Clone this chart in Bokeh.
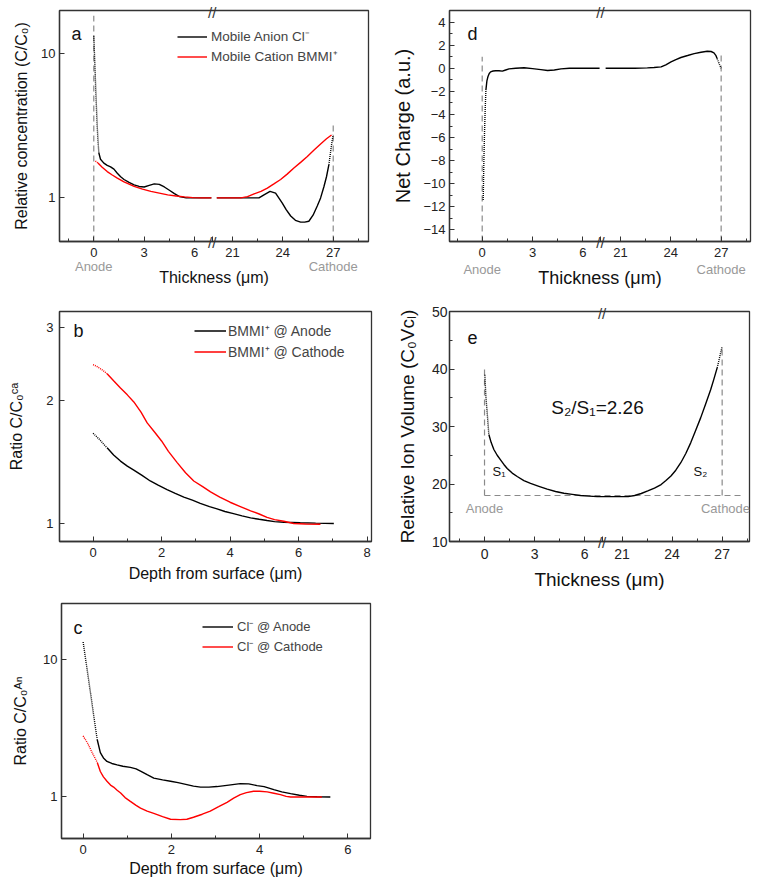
from bokeh.plotting import figure
from bokeh.models import (Range1d, FixedTicker, Label, Legend, LegendItem,
                          NumeralTickFormatter, LinearAxis)
from bokeh.layouts import column, row
from bokeh.embed import file_html
from bokeh.resources import INLINE

FONT = "Liberation Sans"
AX = "#333333"
GRAY_TXT = "#999999"
GRAY_DASH = "#8a8a8a"
SHIFT = 12.75      # broken-axis gap (7.x .. 19.x um removed)
BREAK_U = 7.05

def to_u(xs):
    return [x if x < 12 else x - SHIFT for x in xs]

# ---------------- data: panel a ----------------
a_major = [0, 3, 6, 21, 24, 27]
a_minor = [-1.5, 1.5, 4.5, 22.5, 25.5, 28.5]
a_an_dot_x = [0.0, 0.04, 0.08, 0.12, 0.16, 0.2, 0.25, 0.3]
a_an_dot_y = [13.2, 10.0, 7.5, 5.5, 4.2, 3.2, 2.5, 2.05]
a_an_l_x = [0.3, 0.4, 0.6, 0.8, 1.0, 1.2, 1.4, 1.6, 1.8, 2.1, 2.4, 2.7, 3.0, 3.3, 3.6, 3.9, 4.2, 4.5, 4.8, 5.1, 5.5, 6.0, 6.5, 7.0]
a_an_l_y = [2.05, 1.85, 1.74, 1.68, 1.64, 1.58, 1.48, 1.4, 1.34, 1.28, 1.23, 1.2, 1.19, 1.22, 1.25, 1.24, 1.19, 1.13, 1.07, 1.02, 1.0, 1.0, 1.0, 1.0]
a_an_r_x = [20.07, 21.0, 22.0, 22.58, 22.88, 23.24, 23.57, 23.97, 24.2, 24.47, 24.75, 25.06, 25.3, 25.55, 25.8, 26.05, 26.25, 26.45, 26.6, 26.74]
a_an_r_y = [1.0, 1.0, 1.0, 1.0, 1.05, 1.11, 1.08, 0.92, 0.83, 0.75, 0.70, 0.68, 0.68, 0.69, 0.76, 0.88, 1.0, 1.2, 1.4, 1.69]
a_an_rdot_x = [26.74, 26.8, 26.86, 26.93, 27.0]
a_an_rdot_y = [1.69, 1.9, 2.15, 2.45, 2.72]
a_ca_dot_x = [0.1, 0.2, 0.25]
a_ca_dot_y = [1.80, 1.76, 1.74]
a_ca_l_x = [0.25, 0.5, 0.8, 1.1, 1.4, 1.8, 2.4, 2.9, 3.4, 3.9, 4.4, 4.9, 5.4, 5.9, 6.4, 7.0]
a_ca_l_y = [1.74, 1.63, 1.52, 1.44, 1.37, 1.29, 1.20, 1.15, 1.11, 1.08, 1.05, 1.03, 1.016, 1.005, 1.0, 1.0]
a_ca_r_x = [20.07, 21.5, 21.9, 22.29, 22.7, 23.08, 23.47, 23.87, 24.26, 24.66, 25.06, 25.46, 25.86, 26.25, 26.6, 26.9]
a_ca_r_y = [1.0, 1.0, 1.02, 1.065, 1.11, 1.17, 1.25, 1.34, 1.46, 1.61, 1.76, 1.93, 2.14, 2.36, 2.56, 2.72]
a_elec_x = [0, 27]
a_elec_top = [18.1, 3.36]
elec_names = ["Anode", "Cathode"]

# ---------------- data: panel d ----------------
d_dot_l_x = [0.06, 0.1, 0.14, 0.18, 0.22]
d_dot_l_y = [-11.4, -8.0, -5.5, -3.5, -1.9]
d_l_x = [0.22, 0.28, 0.34, 0.42, 0.5, 0.65, 0.8, 1.0, 1.2, 1.4, 1.6, 2.0, 2.5, 3.0, 3.5, 3.9, 4.3, 4.7, 5.2, 5.7, 6.3, 7.0]
d_l_y = [-1.9, -1.1, -0.74, -0.45, -0.31, -0.24, -0.22, -0.22, -0.25, -0.15, -0.05, 0.0, 0.04, -0.03, -0.12, -0.19, -0.15, -0.05, 0.0, 0.0, 0.0, 0.0]
d_r_x = [20.11, 21.0, 21.85, 22.6, 23.0, 23.42, 23.7, 24.01, 24.3, 24.6, 25.0, 25.39, 25.8, 26.17, 26.4, 26.57, 26.68, 26.76]
d_r_y = [0.0, 0.0, 0.0, 0.03, 0.07, 0.12, 0.3, 0.55, 0.75, 0.93, 1.1, 1.27, 1.38, 1.47, 1.45, 1.33, 1.12, 0.84]
d_dot_r_x = [26.76, 26.84, 26.92, 27.0]
d_dot_r_y = [0.84, 0.55, 0.25, 0.0]
d_elec_x = [0, 27]
d_elec_top = [1.0, 1.4]
d_y_major = [-14, -12, -10, -8, -6, -4, -2, 0, 2, 4]
d_y_minor = [-13, -11, -9, -7, -5, -3, -1, 1, 3]

# ---------------- data: panel e ----------------
e_dot_l_x = [0.02, 0.08, 0.16, 0.22, 0.26]
e_dot_l_y = [39.0, 35.3, 32.4, 30.1, 28.6]
e_x = [0.26, 0.4, 0.56, 0.76, 0.96, 1.16, 1.36, 1.66, 1.96, 2.36, 2.76, 3.26, 3.76, 4.26, 4.76, 5.26, 5.76, 6.26, 6.76, 7.0,
       20.0, 20.7, 21.36, 21.75, 22.15, 22.54, 22.94, 23.34, 23.63, 23.93, 24.22, 24.52, 24.82, 25.12, 25.41, 25.71, 26.01, 26.31, 26.5, 26.7]
e_y = [28.6, 27.2, 26.0, 25.0, 24.2, 23.4, 22.7, 21.9, 21.3, 20.6, 20.1, 19.6, 19.1, 18.7, 18.4, 18.2, 18.0, 17.9, 17.8, 17.8,
       17.8, 17.8, 17.8, 18.0, 18.35, 18.8, 19.3, 19.9, 20.6, 21.4, 22.4, 23.7, 25.3, 27.2, 29.3, 31.5, 33.9, 36.4, 38.2, 40.2]
e_dot_r_x = [26.7, 26.8, 26.9, 27.0]
e_dot_r_y = [40.2, 41.4, 42.7, 43.9]
e_elec_x = [0, 27]
e_elec_top = [40.6, 43.9]
e_elec_label_x = [0, 27.2]
e_elec_label_y = 15.7
e_base_y = 18.0
e_base_x_end = 28.15
e_y_major = [10, 20, 30, 40, 50]
e_y_minor = [15, 25, 35, 45]

# ---------------- data: panel b ----------------
b_an_dot_x = [0.0, 0.1, 0.2, 0.3, 0.41]
b_an_dot_y = [1.66, 1.63, 1.60, 1.565, 1.53]
b_an_x = [0.41, 0.6, 0.8, 1.0, 1.19, 1.43, 1.67, 1.9, 2.16, 2.4, 2.65, 2.9, 3.13, 3.4, 3.62, 3.85, 4.1, 4.35, 4.6, 4.85, 5.08, 5.3, 5.57, 6.05, 6.5, 7.03]
b_an_y = [1.53, 1.47, 1.42, 1.38, 1.35, 1.31, 1.27, 1.24, 1.21, 1.185, 1.16, 1.14, 1.12, 1.10, 1.086, 1.07, 1.057, 1.044, 1.032, 1.024, 1.017, 1.011, 1.007, 1.004, 1.002, 1.0]
b_ca_dot_x = [0.0, 0.1, 0.2, 0.3, 0.41]
b_ca_dot_y = [2.44, 2.42, 2.39, 2.36, 2.32]
b_ca_x = [0.41, 0.6, 0.8, 1.0, 1.19, 1.4, 1.58, 1.8, 2.0, 2.2, 2.45, 2.7, 2.94, 3.2, 3.43, 3.7, 4.0, 4.3, 4.6, 4.85, 5.08, 5.3, 5.57, 5.86, 6.2, 6.64]
b_ca_y = [2.32, 2.23, 2.14, 2.06, 1.98, 1.87, 1.76, 1.67, 1.59, 1.50, 1.41, 1.33, 1.27, 1.23, 1.195, 1.16, 1.127, 1.10, 1.074, 1.055, 1.035, 1.022, 1.013, 1.0, 0.997, 0.996]

# ---------------- data: panel c ----------------
c_an_dot_x = [0.0, 0.05, 0.1, 0.15, 0.2, 0.26, 0.32]
c_an_dot_y = [13.3, 10.3, 8.0, 6.2, 4.8, 3.5, 2.6]
c_an_x = [0.32, 0.39, 0.46, 0.54, 0.65, 0.77, 0.9, 1.07, 1.2, 1.3, 1.45, 1.6, 1.8, 1.98, 2.15, 2.35, 2.5, 2.66, 2.85, 3.03, 3.3, 3.56, 3.75, 3.94, 4.1, 4.32, 4.5, 4.7, 4.9, 5.07, 5.3, 5.6]
c_an_y = [2.6, 2.1, 1.92, 1.81, 1.75, 1.71, 1.67, 1.64, 1.6, 1.54, 1.45, 1.37, 1.33, 1.30, 1.27, 1.23, 1.2, 1.18, 1.18, 1.19, 1.22, 1.25, 1.245, 1.21, 1.19, 1.13, 1.09, 1.057, 1.03, 1.011, 1.003, 1.0]
c_ca_dot_x = [0.0, 0.1, 0.23, 0.32]
c_ca_dot_y = [2.77, 2.46, 2.02, 1.78]
c_ca_x = [0.32, 0.39, 0.46, 0.54, 0.62, 0.69, 0.77, 0.85, 0.95, 1.07, 1.2, 1.3, 1.45, 1.6, 1.8, 1.98, 2.2, 2.35, 2.5, 2.7, 2.88, 3.07, 3.26, 3.41, 3.56, 3.7, 3.86, 4.0, 4.17, 4.32, 4.47, 4.6, 4.7, 5.07, 5.41]
c_ca_y = [1.78, 1.53, 1.40, 1.30, 1.22, 1.18, 1.12, 1.07, 0.99, 0.93, 0.87, 0.83, 0.79, 0.76, 0.72, 0.69, 0.685, 0.69, 0.713, 0.75, 0.79, 0.85, 0.915, 0.98, 1.04, 1.075, 1.10, 1.10, 1.09, 1.065, 1.04, 1.01, 1.0, 1.0, 1.0]


def style_axis(ax, tick_size="13px"):
    ax.axis_line_color = AX
    ax.axis_line_width = 1.3
    ax.major_tick_line_color = AX
    ax.minor_tick_line_color = AX
    ax.major_tick_in = 5
    ax.major_tick_out = 0
    ax.minor_tick_in = 3
    ax.minor_tick_out = 0
    ax.major_label_text_font = FONT
    ax.major_label_text_font_size = tick_size
    ax.major_label_text_color = "#222222"
    ax.axis_label_text_font = FONT
    ax.axis_label_text_font_style = "normal"
    ax.axis_label_text_color = "#111111"


def bare_axis(ax):
    ax.axis_line_color = None
    ax.major_tick_line_color = None
    ax.minor_tick_line_color = None
    ax.major_tick_in = 0
    ax.major_tick_out = 0
    ax.minor_tick_in = 0
    ax.minor_tick_out = 0


def make_fig(xr, yr, ylog, fw, h, bl, br, bt, bb, broken=False):
    kw = dict(x_axis_location=None) if broken else {}
    p = figure(x_range=Range1d(*xr), y_range=Range1d(*yr),
               y_axis_type="log" if ylog else "linear",
               frame_width=fw, height=h, min_border=0,
               min_border_left=bl, min_border_right=br,
               min_border_top=bt, min_border_bottom=bb,
               toolbar_location=None, output_backend="svg", **kw)
    p.grid.visible = False
    p.outline_line_color = AX
    p.outline_line_width = 1.3
    p.background_fill_color = "white"
    p.border_fill_color = "white"
    for ax in p.axis:
        style_axis(ax)
    return p


def set_y(p, ylab, yls, yst, ylst, tick_size="13px"):
    ax = p.yaxis[0]
    ax.axis_label = ylab
    ax.axis_label_text_font_size = yls
    ax.major_label_standoff = yst
    ax.axis_label_standoff = ylst
    ax.major_label_text_font_size = tick_size


def set_x(p, xlab, xls, xst, xlst, tick_size="13px"):
    ax = p.xaxis[0]
    ax.axis_label = xlab
    ax.axis_label_text_font_size = xls
    ax.major_label_standoff = xst
    ax.axis_label_standoff = xlst
    ax.major_label_text_font_size = tick_size


BREAK_FONT = "15px"

def broken_x(p, xlab, xls, num_st, lab_st, tick_size="13px", elec=None):
    major_u = to_u(a_major)
    # 1) axis line + inward ticks + break mark on the line
    ax1 = LinearAxis(ticker=FixedTicker(ticks=major_u + [BREAK_U], minor_ticks=to_u(a_minor)))
    style_axis(ax1, BREAK_FONT)
    ax1.major_label_overrides = dict([(u, "") for u in major_u] + [(BREAK_U, "//")])
    ax1.major_label_standoff = -8
    ax1.major_label_text_color = AX
    p.add_layout(ax1, "below")
    # 2) numeric tick labels
    ax2 = LinearAxis(ticker=FixedTicker(ticks=major_u, minor_ticks=[]))
    style_axis(ax2, tick_size)
    bare_axis(ax2)
    ax2.major_label_overrides = {u: str(t) for u, t in zip(major_u, a_major)}
    ax2.major_label_standoff = num_st
    p.add_layout(ax2, "below")
    last = ax2
    # 3) electrode names
    if elec is not None:
        names_x, names_st = elec
        ax3 = LinearAxis(ticker=FixedTicker(ticks=to_u(names_x), minor_ticks=[]))
        style_axis(ax3)
        bare_axis(ax3)
        ax3.major_label_overrides = {u: n for u, n in zip(to_u(names_x), elec_names)}
        ax3.major_label_text_color = GRAY_TXT
        ax3.major_label_standoff = names_st
        p.add_layout(ax3, "below")
        last = ax3
    last.axis_label = xlab
    last.axis_label_text_font_size = xls
    last.axis_label_standoff = lab_st
    # top break mark
    axt = LinearAxis(ticker=FixedTicker(ticks=[BREAK_U], minor_ticks=[]))
    style_axis(axt, BREAK_FONT)
    bare_axis(axt)
    axt.major_label_overrides = {BREAK_U: "//"}
    axt.major_label_standoff = -10
    axt.major_label_text_color = AX
    p.add_layout(axt, "above")


def letter(p, txt, x, y):
    p.add_layout(Label(x=x, y=y, x_units="screen", y_units="screen", text=txt,
                       text_font=FONT, text_font_size="18px", text_color="#111111",
                       text_baseline="middle"))


def make_legend(p, items, loc, gw, standoff, size):
    lg = Legend(items=[LegendItem(label=l, renderers=[r]) for l, r in items],
                location=loc, glyph_width=gw, glyph_height=17, label_height=17,
                label_standoff=standoff, spacing=2, padding=4, margin=0,
                border_line_color=None, background_fill_alpha=0,
                label_text_font=FONT, label_text_font_size=size)
    p.add_layout(lg)


LW = 1.4
DOT = "1 1"
DASH = "6 4"

# ---------------- panel a ----------------
pa = make_fig((-2.04, 16.35), (0.5, 19.7), True, 309, 290, 59, 10, 10, 48, broken=True)
set_y(pa, "Relative concentration (C/C₀)", "16px", 4, 8)
pa.yaxis.ticker = FixedTicker(ticks=[1, 10], minor_ticks=[])
pa.yaxis.formatter = NumeralTickFormatter(format="0")
broken_x(pa, "Thickness (μm)", "16px", -6, -8, elec=(a_elec_x, -1))
for xv, top in zip(a_elec_x, a_elec_top):
    pa.line(to_u([xv, xv]), [0.5, top], line_color=GRAY_DASH, line_width=1.2, line_dash=DASH)
pa.line(to_u(a_an_dot_x), a_an_dot_y, line_color="black", line_width=LW, line_dash=DOT)
ra1 = pa.line(to_u(a_an_l_x), a_an_l_y, line_color="black", line_width=LW)
pa.line(to_u(a_an_r_x), a_an_r_y, line_color="black", line_width=LW)
pa.line(to_u(a_an_rdot_x), a_an_rdot_y, line_color="black", line_width=LW, line_dash=DOT)
pa.line(to_u(a_ca_dot_x), a_ca_dot_y, line_color="red", line_width=LW, line_dash=DOT)
ra2 = pa.line(to_u(a_ca_l_x), a_ca_l_y, line_color="red", line_width=LW)
pa.line(to_u(a_ca_r_x), a_ca_r_y, line_color="red", line_width=LW)
make_legend(pa, [("Mobile Anion Cl⁻", ra1), ("Mobile Cation BMMI⁺", ra2)], (118, 176), 30, 4, "13.5px")
letter(pa, "a", 12, 208)

# ---------------- panel d ----------------
pd_ = make_fig((-1.95, 16.0), (-15, 5), False, 301, 290, 71, 8, 10, 48, broken=True)
set_y(pd_, "Net Charge (a.u.)", "20px", 4, 6)
pd_.yaxis.ticker = FixedTicker(ticks=d_y_major, minor_ticks=d_y_minor)
broken_x(pd_, "Thickness (μm)", "18px", -6, -12, elec=(d_elec_x, 2))
for xv, top in zip(d_elec_x, d_elec_top):
    pd_.line(to_u([xv, xv]), [-15, top], line_color=GRAY_DASH, line_width=1.2, line_dash=DASH)
pd_.line(to_u(d_dot_l_x), d_dot_l_y, line_color="black", line_width=LW, line_dash=DOT)
pd_.line(to_u(d_l_x), d_l_y, line_color="black", line_width=LW)
pd_.line(to_u(d_r_x), d_r_y, line_color="black", line_width=LW)
pd_.line(to_u(d_dot_r_x), d_dot_r_y, line_color="black", line_width=LW, line_dash=DOT)
letter(pd_, "d", 18, 208)

# ---------------- panel b ----------------
pb = make_fig((-0.98, 8.13), (0.904, 3.29), True, 312, 302, 59, 7, 17, 51)
set_x(pb, "Depth from surface (μm)", "16px", 6, 5)
set_y(pb, "Ratio C/C₀ᶜᵃ", "16px", 6, 18)
pb.yaxis.ticker = FixedTicker(ticks=[1, 2, 3], minor_ticks=[])
pb.yaxis.formatter = NumeralTickFormatter(format="0")
pb.xaxis.ticker = FixedTicker(ticks=[0, 2, 4, 6, 8], minor_ticks=[1, 3, 5, 7])
pb.line(b_an_dot_x, b_an_dot_y, line_color="black", line_width=LW, line_dash=DOT)
rb1 = pb.line(b_an_x, b_an_y, line_color="black", line_width=LW)
pb.line(b_ca_dot_x, b_ca_dot_y, line_color="red", line_width=LW, line_dash=DOT)
rb2 = pb.line(b_ca_x, b_ca_y, line_color="red", line_width=LW)
make_legend(pb, [("BMMI⁺ @ Anode", rb1), ("BMMI⁺ @ Cathode", rb2)], (135, 180), 32, 2, "14px")
letter(pb, "b", 14, 211)

# ---------------- panel e ----------------
pe = make_fig((-2.1, 15.89), (10, 50), False, 300, 302, 71, 8, 21, 51, broken=True)
set_y(pe, "Relative Ion Volume (C₀Vᴄₗ)", "19px", 2, 11, tick_size="14px")
pe.yaxis.ticker = FixedTicker(ticks=e_y_major, minor_ticks=e_y_minor)
broken_x(pe, "Thickness (μm)", "19px", -5, 7, tick_size="14px")
for xv, top in zip(e_elec_x, e_elec_top):
    pe.line(to_u([xv, xv]), [e_base_y, top], line_color=GRAY_DASH, line_width=1.2, line_dash=DASH)
pe.line(to_u([0, e_base_x_end]), [e_base_y, e_base_y], line_color=GRAY_DASH, line_width=1.2, line_dash=DASH)
pe.line(to_u(e_dot_l_x), e_dot_l_y, line_color="black", line_width=LW, line_dash=DOT)
pe.line(to_u(e_x), e_y, line_color="black", line_width=LW)
pe.line(to_u(e_dot_r_x), e_dot_r_y, line_color="black", line_width=LW, line_dash=DOT)
for xv, name in zip(to_u(e_elec_label_x), elec_names):
    pe.add_layout(Label(x=xv, y=e_elec_label_y, text=name, text_font=FONT, text_font_size="13px",
                        text_color=GRAY_TXT, text_align="center", text_baseline="middle"))
pe.add_layout(Label(x=148, y=134, x_units="screen", y_units="screen", text="S₂/S₁=2.26",
                    text_font=FONT, text_font_size="19px", text_color="#111111",
                    text_align="center", text_baseline="middle"))
pe.add_layout(Label(x=43, y=70, x_units="screen", y_units="screen", text="S₁",
                    text_font=FONT, text_font_size="13px", text_color="#111111",
                    text_baseline="middle"))
pe.add_layout(Label(x=244, y=70, x_units="screen", y_units="screen", text="S₂",
                    text_font=FONT, text_font_size="13px", text_color="#111111",
                    text_baseline="middle"))
letter(pe, "e", 18, 204)

# ---------------- panel c ----------------
pc = make_fig((-0.49, 6.51), (0.5, 25.3), True, 309, 287, 61, 8, 11, 41)
set_x(pc, "Depth from surface (μm)", "16px", 6, 3)
set_y(pc, "Ratio C/C₀ᴬⁿ", "16px", 4, 11)
pc.yaxis.ticker = FixedTicker(ticks=[1, 10], minor_ticks=[])
pc.yaxis.formatter = NumeralTickFormatter(format="0")
pc.xaxis.ticker = FixedTicker(ticks=[0, 2, 4, 6], minor_ticks=[1, 3, 5])
pc.line(c_an_dot_x, c_an_dot_y, line_color="black", line_width=LW, line_dash=DOT)
rc1 = pc.line(c_an_x, c_an_y, line_color="black", line_width=LW)
pc.line(c_ca_dot_x, c_ca_dot_y, line_color="red", line_width=LW, line_dash=DOT)
rc2 = pc.line(c_ca_x, c_ca_y, line_color="red", line_width=LW)
make_legend(pc, [("Cl⁻ @ Anode", rc1), ("Cl⁻ @ Cathode", rc2)], (141, 183), 31, 4, "13px")
letter(pc, "c", 12, 211)

layout = column(row(pa, pd_), row(pb, pe), pc)
open("out.html", "w").write(file_html(layout, INLINE))
